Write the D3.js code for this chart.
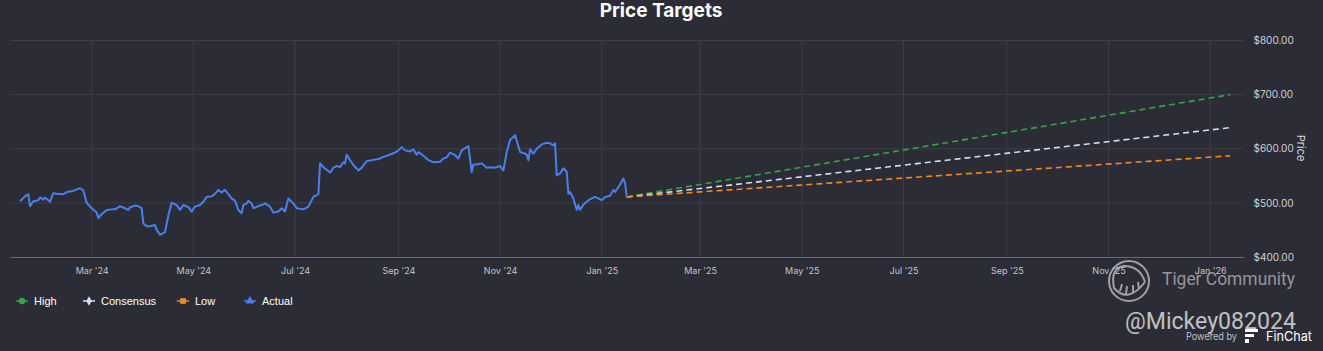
<!DOCTYPE html>
<html>
<head>
<meta charset="utf-8">
<script src="https://cdn.jsdelivr.net/npm/d3@7"></script>
<style>
  html, body { margin: 0; padding: 0; background: #2b2c35; overflow: hidden; }
  svg { display: block; font-family: Inter, "Noto Sans", sans-serif; }
</style>
</head>
<body>
<script>
// actual price
var actualDates = ["2024-01-18","2024-01-21","2024-01-23","2024-01-24","2024-01-26","2024-01-29","2024-01-30","2024-02-01","2024-02-02","2024-02-05",
  "2024-02-07","2024-02-09","2024-02-13","2024-02-15","2024-02-19","2024-02-21","2024-02-23","2024-02-25","2024-02-27","2024-03-01",
  "2024-03-04","2024-03-05","2024-03-07","2024-03-10","2024-03-13","2024-03-15","2024-03-16","2024-03-18","2024-03-21","2024-03-23",
  "2024-03-24","2024-03-27","2024-03-29","2024-03-31","2024-04-01","2024-04-03","2024-04-05","2024-04-08","2024-04-09","2024-04-11",
  "2024-04-14","2024-04-16","2024-04-18","2024-04-21","2024-04-23","2024-04-25","2024-04-28","2024-04-30","2024-05-02","2024-05-05",
  "2024-05-07","2024-05-09","2024-05-12","2024-05-14","2024-05-16","2024-05-18","2024-05-20","2024-05-22","2024-05-24","2024-05-26",
  "2024-05-28","2024-05-30","2024-05-31","2024-06-02","2024-06-03","2024-06-05","2024-06-06","2024-06-09","2024-06-11","2024-06-13",
  "2024-06-16","2024-06-18","2024-06-21","2024-06-23","2024-06-25","2024-06-27","2024-06-30","2024-07-02","2024-07-06","2024-07-09",
  "2024-07-12","2024-07-15","2024-07-16","2024-07-18","2024-07-22","2024-07-24","2024-07-26","2024-07-28","2024-07-30","2024-07-31",
  "2024-08-01","2024-08-03","2024-08-05","2024-08-08","2024-08-10","2024-08-13","2024-08-16","2024-08-20","2024-08-23","2024-08-26",
  "2024-08-30","2024-09-01","2024-09-03","2024-09-05","2024-09-08","2024-09-10","2024-09-12","2024-09-13","2024-09-16","2024-09-19",
  "2024-09-22","2024-09-26","2024-09-28","2024-09-30","2024-10-02","2024-10-05","2024-10-07","2024-10-09","2024-10-13","2024-10-15",
  "2024-10-16","2024-10-18","2024-10-21","2024-10-24","2024-10-26","2024-10-29","2024-11-01","2024-11-03","2024-11-05","2024-11-07",
  "2024-11-10","2024-11-13","2024-11-16","2024-11-17","2024-11-18","2024-11-19","2024-11-21","2024-11-23","2024-11-26","2024-11-29",
  "2024-12-01","2024-12-03","2024-12-04","2024-12-05","2024-12-07","2024-12-09","2024-12-11","2024-12-12","2024-12-13","2024-12-15",
  "2024-12-17","2024-12-18","2024-12-19","2024-12-21","2024-12-25","2024-12-28","2025-01-01","2025-01-03","2025-01-06","2025-01-08",
  "2025-01-09","2025-01-12","2025-01-14","2025-01-15","2025-01-16"];
var actualPrices = [503,512,516,494,503,505,510,506,510,502,
  518,517,516,520,522,525,527,523,500,490,
  482,472,479,487,488,488,490,494,490,487,
  492,495,494,490,462,457,457,459,450,441,
  446,477,500,496,487,496,492,484,493,496,
  502,511,512,517,524,519,524,516,508,504,
  487,481,496,499,504,499,490,494,496,499,
  493,482,484,490,484,508,499,490,488,493,
  511,516,573,566,556,565,568,566,575,573,
  589,579,570,560,565,577,579,581,585,588,
  593,597,603,597,595,599,589,594,587,579,
  575,576,582,584,593,588,582,597,605,557,
  571,571,573,565,566,565,568,560,594,616,
  625,594,591,589,579,599,591,600,608,611,
  610,606,610,551,554,564,557,517,520,508,
  487,496,487,497,507,511,505,511,513,524,
  520,534,545,536,511];

// price targets, straight lines from the last price
var targetDates = ["2025-01-16", "2026-01-13"];
var highTarget = [511, 700];
var consensusTarget = [511, 639];
var lowTarget = [511, 587];

var xTickDates = ["2024-03-01","2024-05-01","2024-07-01","2024-09-01","2024-11-01","2025-01-01",
  "2025-03-01","2025-05-01","2025-07-01","2025-09-01","2025-11-01","2026-01-01"];
var xTickLabels = ["Mar '24","May '24","Jul '24","Sep '24","Nov '24","Jan '25",
  "Mar '25","May '25","Jul '25","Sep '25","Nov '25","Jan '26"];
var yTicks = [400, 500, 600, 700, 800];

var legendNames = ["High", "Consensus", "Low", "Actual"];
var legendColors = ["#35a845", "#d4def7", "#f5891f", "#4a80ec"];
var legendShapes = [d3.symbolCircle, d3.symbolDiamond, d3.symbolSquare, d3.symbolTriangle];

var width = 1323, height = 351;
var parse = d3.utcParse("%Y-%m-%d");

var svg = d3.select("body").append("svg")
  .attr("width", width)
  .attr("height", height);

svg.append("rect").attr("width", width).attr("height", height).attr("fill", "#2b2c35");

var x = d3.scaleUtc()
  .domain([parse("2024-01-12"), parse("2026-01-21")])
  .range([10, 1243.5]);

var y = d3.scaleLinear()
  .domain([400, 800])
  .range([257, 40.5]);

// grid
svg.append("g").selectAll("line")
  .data(yTicks.slice(1))
  .enter().append("line")
  .attr("x1", 10).attr("x2", 1243.5)
  .attr("y1", function(d){ return y(d); })
  .attr("y2", function(d){ return y(d); })
  .attr("stroke", "#3d3e48").attr("stroke-width", 1);

svg.append("g").selectAll("line")
  .data(xTickDates)
  .enter().append("line")
  .attr("x1", function(d){ return x(parse(d)); })
  .attr("x2", function(d){ return x(parse(d)); })
  .attr("y1", 40.5).attr("y2", 257)
  .attr("stroke", "#3d3e48").attr("stroke-width", 1);

// x axis
var xAxis = d3.axisBottom(x)
  .tickValues(xTickDates.map(parse))
  .tickFormat(function(d, i){ return xTickLabels[i]; })
  .tickSize(0)
  .tickPadding(11);

var gx = svg.append("g").attr("transform", "translate(0,257)").call(xAxis);
gx.select(".domain").attr("stroke", "#6a6b75");
gx.selectAll("text").attr("fill", "#c4c5cc").attr("font-size", 9).attr("font-family", "Inter, sans-serif");

// y axis on the right
var yAxis = d3.axisRight(y)
  .tickValues(yTicks)
  .tickFormat(function(d){ return "$" + d.toFixed(2); })
  .tickSize(0)
  .tickPadding(10);

var gy = svg.append("g").attr("transform", "translate(1243.5,0)").call(yAxis);
gy.select(".domain").remove();
gy.selectAll("text").attr("fill", "#d0d1d6").attr("font-size", 10).attr("font-family", "Inter, sans-serif");

svg.append("text")
  .attr("transform", "translate(1297,148) rotate(90)")
  .attr("text-anchor", "middle")
  .attr("fill", "#d8d9de")
  .attr("font-size", 11)
  .text("Price");

// title
svg.append("text")
  .attr("x", 661).attr("y", 17)
  .attr("text-anchor", "middle")
  .attr("fill", "#ffffff")
  .attr("font-size", 19)
  .attr("font-weight", "bold")
  .text("Price Targets");

// lines
var line = d3.line()
  .x(function(d){ return x(d[0]); })
  .y(function(d){ return y(d[1]); });

var targets = [highTarget, consensusTarget, lowTarget];
targets.forEach(function(vals, i){
  var pts = targetDates.map(function(d, j){ return [parse(d), vals[j]]; });
  svg.append("path")
    .attr("d", line(pts))
    .attr("fill", "none")
    .attr("stroke", legendColors[i])
    .attr("stroke-width", 1.6)
    .attr("stroke-dasharray", "6,4");
});

var actual = actualDates.map(function(d, i){ return [parse(d), actualPrices[i]]; });
svg.append("path")
  .attr("d", line(actual))
  .attr("fill", "none")
  .attr("stroke", legendColors[3])
  .attr("stroke-width", 2)
  .attr("stroke-linejoin", "round");

// legend
var legendX = [22, 89, 183, 250];
var legend = svg.append("g").selectAll("g")
  .data(legendNames)
  .enter().append("g")
  .attr("transform", function(d, i){ return "translate(" + legendX[i] + ",301)"; });

legend.append("line")
  .attr("x1", -6).attr("x2", 6)
  .attr("stroke", function(d, i){ return legendColors[i]; })
  .attr("stroke-width", 1.5);

legend.append("path")
  .attr("d", function(d, i){ return d3.symbol().type(legendShapes[i]).size(i == 1 ? 26 : 32)(); })
  .attr("fill", function(d, i){ return legendColors[i]; });

legend.append("text")
  .attr("x", 12).attr("y", 4)
  .attr("fill", "#ffffff")
  .attr("font-size", 11)
  .attr("font-family", "Liberation Sans, Arial, sans-serif")
  .text(function(d){ return d; });

// watermark
var wm = svg.append("g").attr("opacity", 0.75);
wm.append("circle").attr("cx", 1129).attr("cy", 281).attr("r", 20)
  .attr("fill", "none").attr("stroke", "#c8c8cc").attr("stroke-width", 2);
wm.append("path")
  .attr("d", "M1114,288 Q1128,304 1145,282 M1114,288 Q1110,268 1124,266 Q1140,266 1145,282 M1120,291 l2,-7 M1126,294 l1,-8 M1133,293 l0,-8 M1139,289 l-1,-7")
  .attr("fill", "none").attr("stroke", "#c8c8cc").attr("stroke-width", 2);
wm.append("text").attr("x", 1162).attr("y", 285)
  .attr("fill", "#b8b8bd").attr("font-size", 18).attr("font-family", "Roboto, sans-serif")
  .attr("textLength", 133).attr("lengthAdjust", "spacingAndGlyphs")
  .text("Tiger Community");
wm.append("text").attr("x", 1125).attr("y", 329)
  .attr("fill", "#f2f2f4").attr("font-size", 24).attr("font-family", "Roboto, sans-serif")
  .attr("textLength", 171).attr("lengthAdjust", "spacingAndGlyphs")
  .text("@Mickey082024");

svg.append("text").attr("x", 1186).attr("y", 340)
  .attr("fill", "#c0c1c7").attr("font-size", 10.5)
  .attr("textLength", 51).attr("lengthAdjust", "spacingAndGlyphs")
  .text("Powered by");
svg.append("path")
  .attr("d", "M1245,329 h13 v3 h-13 z M1245,334 h9 v3 h-9 z M1245,339 h4 v4 h-4 z")
  .attr("fill", "#ffffff");
svg.append("text").attr("x", 1266).attr("y", 341)
  .attr("fill", "#ffffff").attr("font-size", 13)
  .attr("textLength", 46).attr("lengthAdjust", "spacingAndGlyphs")
  .text("FinChat");
</script>
</body>
</html>
